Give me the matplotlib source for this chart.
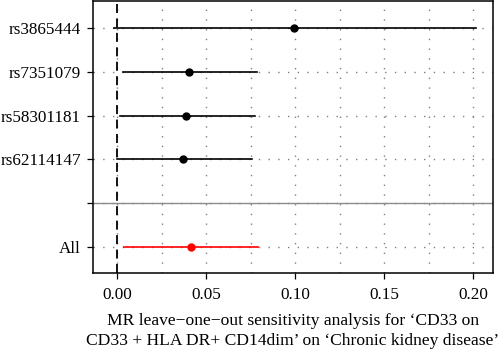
import matplotlib
matplotlib.use("Agg")
import matplotlib.pyplot as plt
from matplotlib.ticker import MultipleLocator

snps = ["All", "rs62114147", "rs58301181", "rs7351079", "rs3865444"]
ypos = [1, 3, 4, 5, 6]
beta = [0.0414, 0.0369, 0.0388, 0.0407, 0.0993]
lower = [0.0038, 0.0001, 0.0014, 0.0033, -0.0018]
upper = [0.0790, 0.0757, 0.0775, 0.0785, 0.2017]
colors = ["red", "black", "black", "black", "black"]

plt.rcParams['font.family'] = ['Liberation Serif', 'DejaVu Serif']

fig = plt.figure(figsize=(5.0, 3.51), dpi=100)
ax = fig.add_axes([0.186, 0.222, 0.80, 0.775])

ax.set_xlim(-0.0135, 0.2112)
ax.set_ylim(0.41, 6.61)

ax.xaxis.set_major_locator(MultipleLocator(0.05))
ax.xaxis.set_minor_locator(MultipleLocator(0.025))
grid_style = dict(color="#808080", linestyle=(0, (1, 6)), linewidth=1.0)
ax.grid(True, which="major", axis="both", **grid_style)
ax.grid(True, which="minor", axis="x", **grid_style)
ax.set_axisbelow(True)

ax.axvline(0, color="black", linestyle=(0, (5, 3)), linewidth=1.3, zorder=2)
ax.axhline(2, color="#8c8c8c", linewidth=1.0, zorder=2)

for y, b, lo, hi, c in zip(ypos, beta, lower, upper, colors):
    ax.plot([lo, hi], [y, y], color=c, linewidth=1.2, zorder=3)
    ax.plot([b], [y], marker="o", color=c, markersize=5, zorder=4)

ax.set_yticks([1, 2, 3, 4, 5, 6])
ax.set_yticklabels(["All", "", "rs62114147", "rs58301181", "rs7351079", "rs3865444"])
ax.set_xticks([0, 0.05, 0.10, 0.15, 0.20])
ax.set_xticklabels(["0.00", "0.05", "0.10", "0.15", "0.20"])
ax.tick_params(axis="both", which="major", labelsize=12.3, length=4, width=0.9, color="black")
ax.tick_params(axis="x", which="major", pad=6)
ax.tick_params(axis="y", which="major", pad=4.5)
ax.tick_params(axis="x", which="minor", length=0)
for s in ax.spines.values():
    s.set_linewidth(1.1)
    s.set_color("black")

ax.set_xlabel("MR leave\u2212one\u2212out sensitivity analysis for \u2018CD33 on\n"
              "CD33 + HLA DR+ CD14dim\u2019 on \u2018Chronic kidney disease\u2019",
              fontsize=12.6, labelpad=7.5, linespacing=1.3)

fig.savefig("out.png", dpi=100)
